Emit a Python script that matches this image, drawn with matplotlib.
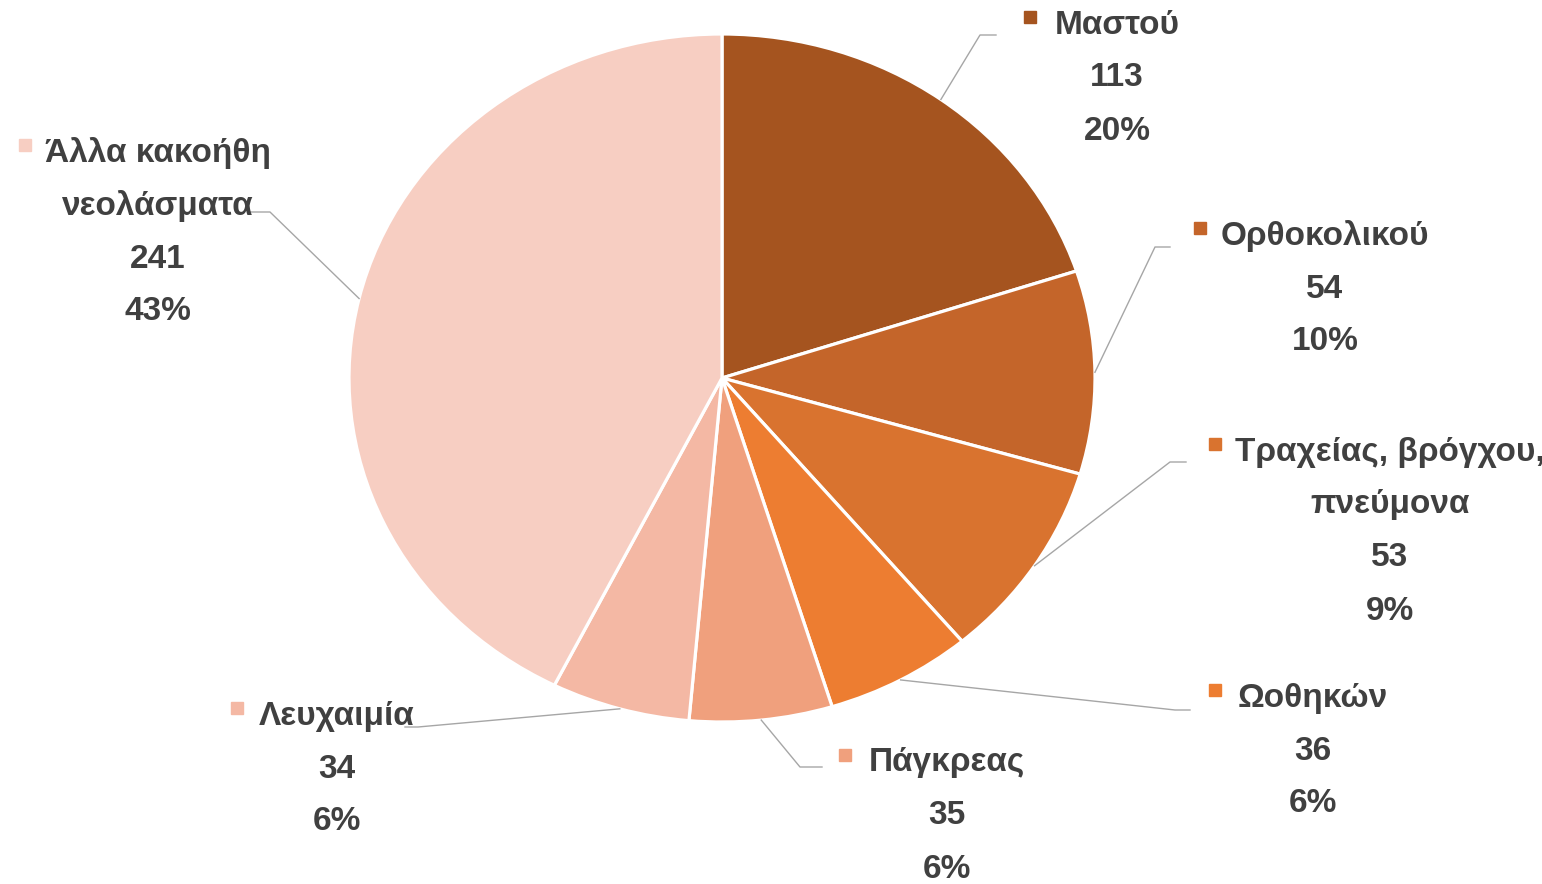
import numpy as np
import matplotlib.pyplot as plt

plt.rcParams['font.family'] = ['Liberation Sans', 'DejaVu Sans']

# data
labels = ['Μαστού', 'Ορθοκολικού', 'Τραχείας, βρόγχου,\nπνεύμονα', 'Ωοθηκών',
          'Πάγκρεας', 'Λευχαιμία', 'Άλλα κακοήθη\nνεολάσματα']
counts = [113, 54, 53, 36, 35, 34, 241]
colors = ['#A5541F', '#C4652A', '#D9732F', '#ED7D31', '#F0A07D', '#F4B8A4', '#F7CEC2']

# label layout, in pixels of the 1542x884 picture (y downward)
text_x = [1117, 1325, 1390, 1313, 947, 337, 158]
text_y = [25, 236, 452, 698, 763, 716, 153]
key_x = [1030, 1200, 1215, 1215, 845, 237, 25]
elbow = [(980, 35), (1155, 247), (1170, 462), (1175, 710), (800, 767), (418, 727), (270, 212)]
tail = [(996, 35), (1170, 247), (1186, 462), (1190, 710), (822, 767), (405, 727), (250, 212)]

W, H = 1542, 884
cx, cy, rx, ry = 722, 378, 373, 344


def to_data(px, py):
    return (px - cx) / rx, (cy - py) / ry


fig = plt.figure(figsize=(W / 100, H / 100), dpi=100)
ax = fig.add_axes([0, 0, 1, 1])
wedges, _ = ax.pie(counts, colors=colors, startangle=90, counterclock=False,
                   wedgeprops=dict(edgecolor='white', linewidth=2.3))
ax.set_aspect('auto')
x0, y0 = to_data(0, H)
x1, y1 = to_data(W, 0)
ax.set_xlim(x0, x1)
ax.set_ylim(y0, y1)
ax.axis('off')

total = sum(counts)
step = 53
for i, w in enumerate(wedges):
    mid = np.deg2rad((w.theta1 + w.theta2) / 2)
    ex, ey = to_data(*elbow[i])
    tx, ty = to_data(*tail[i])
    ax.plot([np.cos(mid), ex, tx], [np.sin(mid), ey, ty], color='#A6A6A6', lw=1.0, zorder=1)

    lines = labels[i].split('\n') + [str(counts[i]), '%d%%' % round(100 * counts[i] / total)]
    for j, s in enumerate(lines):
        x, y = to_data(text_x[i], text_y[i] + j * step)
        ax.text(x, y, s, ha='center', va='center', fontsize=24, fontweight='bold',
                color='#404040', zorder=3)
    kx, ky = to_data(key_x[i], text_y[i] - 8)
    ax.plot([kx], [ky], marker='s', markersize=8, color=colors[i], zorder=3)

fig.savefig('out.png', dpi=100)
